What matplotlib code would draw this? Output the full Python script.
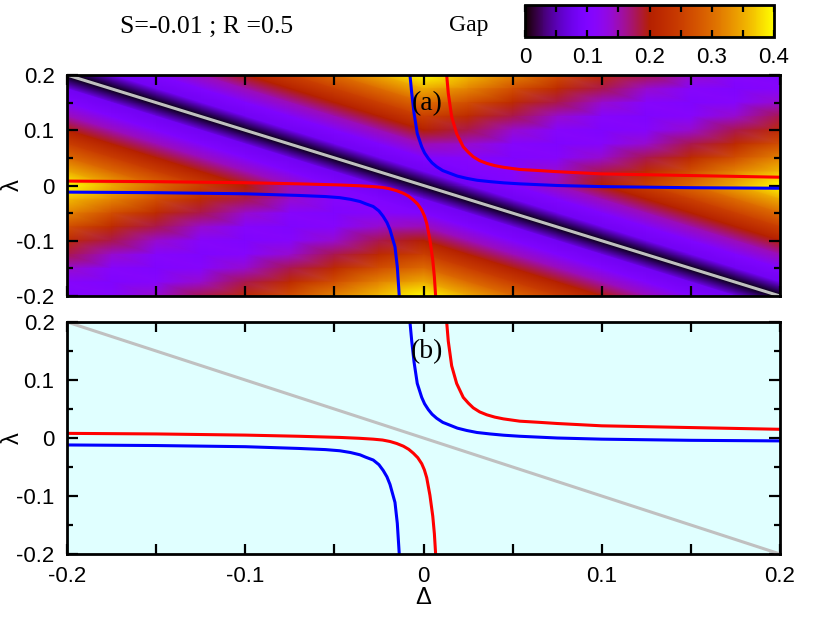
import numpy as np
import matplotlib
matplotlib.use("Agg")
import matplotlib.pyplot as plt
import matplotlib.tri as mtri
from matplotlib.ticker import MultipleLocator

# === DATA ===
DELTA_GRID = [-0.2, -0.175, -0.15, -0.125, -0.1, -0.075, -0.05, -0.025, 0.0,
              0.025, 0.05, 0.075, 0.1, 0.125, 0.15, 0.175, 0.2]
LAMBDA_GRID = [0.2, 0.175, 0.15, 0.125, 0.1, 0.075, 0.05, 0.025, 0.0,
               -0.025, -0.05, -0.075, -0.1, -0.125, -0.15, -0.175, -0.2]
# gap, rows follow LAMBDA_GRID (top -> bottom), columns follow DELTA_GRID
GAP = [
    [.00, .08, .10, .15, .20, .25, .30, .35, .40, .36, .32, .27, .22, .18, .14, .11, .10],
    [.08, .00, .08, .10, .15, .20, .25, .30, .35, .32, .27, .22, .18, .14, .11, .10, .11],
    [.10, .08, .00, .08, .10, .15, .20, .25, .30, .27, .22, .18, .14, .11, .10, .11, .14],
    [.15, .10, .08, .00, .08, .10, .15, .20, .25, .22, .18, .14, .11, .10, .11, .14, .18],
    [.20, .15, .10, .08, .00, .08, .10, .15, .20, .18, .14, .11, .10, .11, .14, .18, .22],
    [.25, .20, .15, .10, .08, .00, .08, .10, .15, .14, .11, .10, .11, .14, .18, .22, .27],
    [.30, .25, .20, .15, .10, .08, .00, .08, .10, .11, .10, .11, .14, .18, .22, .27, .32],
    [.35, .30, .25, .20, .15, .10, .08, .00, .08, .10, .11, .14, .18, .22, .27, .32, .36],
    [.40, .35, .30, .25, .20, .15, .10, .08, .00, .08, .10, .15, .20, .25, .30, .35, .40],
    [.36, .32, .27, .22, .18, .14, .11, .10, .08, .00, .08, .10, .15, .20, .25, .30, .35],
    [.32, .27, .22, .18, .14, .11, .10, .11, .10, .08, .00, .08, .10, .15, .20, .25, .30],
    [.27, .22, .18, .14, .11, .10, .11, .14, .15, .10, .08, .00, .08, .10, .15, .20, .25],
    [.22, .18, .14, .11, .10, .11, .14, .18, .20, .15, .10, .08, .00, .08, .10, .15, .20],
    [.18, .14, .11, .10, .11, .14, .18, .22, .25, .20, .15, .10, .08, .00, .08, .10, .15],
    [.14, .11, .10, .11, .14, .18, .22, .27, .30, .25, .20, .15, .10, .08, .00, .08, .10],
    [.11, .10, .11, .14, .18, .22, .27, .32, .35, .30, .25, .20, .15, .10, .08, .00, .08],
    [.10, .11, .14, .18, .22, .27, .32, .36, .40, .35, .30, .25, .20, .15, .10, .08, .00],
]

BLUE_UP_D = [-0.0076, -0.0066, -0.0053, -0.0035, -0.001, 0.0006, 0.0027, 0.0048,
             0.0074, 0.0108, 0.0149, 0.019, 0.0242, 0.030, 0.0373, 0.045, 0.054,
             0.075, 0.1, 0.15, 0.2]
BLUE_UP_L = [0.2, 0.167, 0.131, 0.094, 0.070, 0.059, 0.049, 0.041,
             0.034, 0.027, 0.022, 0.017, 0.013, 0.0095, 0.007, 0.0048, 0.003,
             0.0, -0.002, -0.004, -0.005]
RED_UP_D = [0.0130, 0.0139, 0.0158, 0.0186, 0.0223, 0.0252, 0.0279, 0.0315,
            0.0355, 0.040, 0.0448, 0.054, 0.065, 0.075, 0.1, 0.15, 0.2]
RED_UP_L = [0.2, 0.167, 0.1245, 0.094, 0.070, 0.060, 0.052, 0.045,
            0.040, 0.036, 0.033, 0.029, 0.027, 0.025, 0.021, 0.018, 0.015]
RED_LO_D = [-0.2, -0.15, -0.1, -0.07, -0.047, -0.036, -0.0282, -0.023, -0.0188,
            -0.015, -0.0113, -0.0083, -0.0057, -0.0032, -0.001, 0.0005, 0.0018,
            0.0036, 0.0052, 0.0061, 0.0068]
RED_LO_L = [0.008, 0.007, 0.005, 0.003, 0.001, -0.0005, -0.002, -0.0035, -0.006,
            -0.0095, -0.0141, -0.0195, -0.0262, -0.034, -0.0443, -0.055, -0.0684,
            -0.0986, -0.1348, -0.165, -0.2]
BLUE_LO_D = [-0.2, -0.15, -0.1, -0.07, -0.055, -0.047, -0.041, -0.0356, -0.0325,
             -0.0282, -0.025, -0.0226, -0.0205, -0.0188, -0.016, -0.0147, -0.0136]
BLUE_LO_L = [-0.012, -0.013, -0.015, -0.018, -0.020, -0.022, -0.025, -0.029, -0.033,
             -0.038, -0.046, -0.056, -0.067, -0.080, -0.111, -0.147, -0.2]
DIAG_D = [-0.2, 0.2]
DIAG_L = [0.2, -0.2]

SANS = "Liberation Sans"
SERIF = "Liberation Serif"
plt.rcParams['font.family'] = SANS


def style_axes(ax, show_xlabels):
    ax.set_xlim(-0.2, 0.2)
    ax.set_ylim(-0.2, 0.2)
    ax.xaxis.set_minor_locator(MultipleLocator(0.05))
    ax.yaxis.set_minor_locator(MultipleLocator(0.05))
    ax.tick_params(which='both', direction='in', top=True, right=True,
                   labelsize=16, width=1.6)
    ax.tick_params(axis='x', which='both', length=7, pad=9)
    ax.tick_params(axis='y', which='major', length=8, pad=9)
    ax.tick_params(axis='y', which='minor', length=4)
    ax.set_yticks([-0.2, -0.1, 0, 0.1, 0.2])
    ax.set_yticklabels(['-0.2', '-0.1', '0', '0.1', '0.2'])
    ax.set_xticks([-0.2, -0.1, 0, 0.1, 0.2])
    if show_xlabels:
        ax.set_xticklabels(['-0.2', '-0.1', '0', '0.1', '0.2'])
    else:
        ax.set_xticklabels([])
    for sp in ax.spines.values():
        sp.set_linewidth(2)
    ax.set_ylabel('λ', fontsize=17, va='center')
    ax.yaxis.set_label_coords(-0.076, 0.5)


def draw_curves(ax):
    ax.plot(DIAG_D, DIAG_L, color='#c0c0c0', lw=2.2)
    ax.plot(RED_UP_D, RED_UP_L, color='#ff0000', lw=2.2)
    ax.plot(RED_LO_D, RED_LO_L, color='#ff0000', lw=2.2)
    ax.plot(BLUE_UP_D, BLUE_UP_L, color='#0000ff', lw=2.2)
    ax.plot(BLUE_LO_D, BLUE_LO_L, color='#0000ff', lw=2.2)


fig = plt.figure(figsize=(8.22, 6.17), dpi=100)
W, H = 822.0, 617.0
ax1 = fig.add_axes([67 / W, 1 - 296 / H, 713 / W, 221 / H])
ax2 = fig.add_axes([67 / W, 1 - 554 / H, 713 / W, 232 / H])
cax = fig.add_axes([525 / W, 1 - 37 / H, 249 / W, 32 / H])

# panel (a): gap map
nx = len(DELTA_GRID)
ny = len(LAMBDA_GRID)
X, Y = np.meshgrid(DELTA_GRID, LAMBDA_GRID)
Z = np.array(GAP)
tris = []
for i in range(ny - 1):
    for j in range(nx - 1):
        tl = i * nx + j
        tr = tl + 1
        bl = tl + nx
        br = bl + 1
        tris.append([tl, tr, br])
        tris.append([tl, br, bl])
tri = mtri.Triangulation(X.ravel(), Y.ravel(), tris)
mesh = ax1.tripcolor(tri, Z.ravel(), shading='gouraud', cmap='gnuplot',
                     vmin=0, vmax=0.4)
draw_curves(ax1)
style_axes(ax1, False)
ax1.text(0.002, 0.149, '(a)', fontsize=20, family=SERIF, ha='center', va='center')

# panel (b)
ax2.set_facecolor('#e0ffff')
draw_curves(ax2)
style_axes(ax2, True)
ax2.set_xlabel('Δ', fontsize=17, labelpad=0)
ax2.text(0.002, 0.149, '(b)', fontsize=20, family=SERIF, ha='center', va='center')

# colorbar
cb = fig.colorbar(mesh, cax=cax, orientation='horizontal')
cb.set_ticks([0, 0.1, 0.2, 0.3, 0.4])
cb.set_ticklabels(['0', '0.1', '0.2', '0.3', '0.4'])
cb.ax.xaxis.set_minor_locator(MultipleLocator(0.05))
cb.ax.tick_params(which='both', direction='in', top=True, bottom=True,
                  length=5, width=1.6, labelsize=16, pad=7)
cb.outline.set_linewidth(2)

fig.text(120 / W, 1 - 27 / H, 'S=-0.01 ; R =0.5', fontsize=18.5, family=SERIF,
         ha='left', va='center')
fig.text(469 / W, 1 - 25 / H, 'Gap', fontsize=17, family=SERIF,
         ha='center', va='center')

fig.savefig('out.png', dpi=100)
